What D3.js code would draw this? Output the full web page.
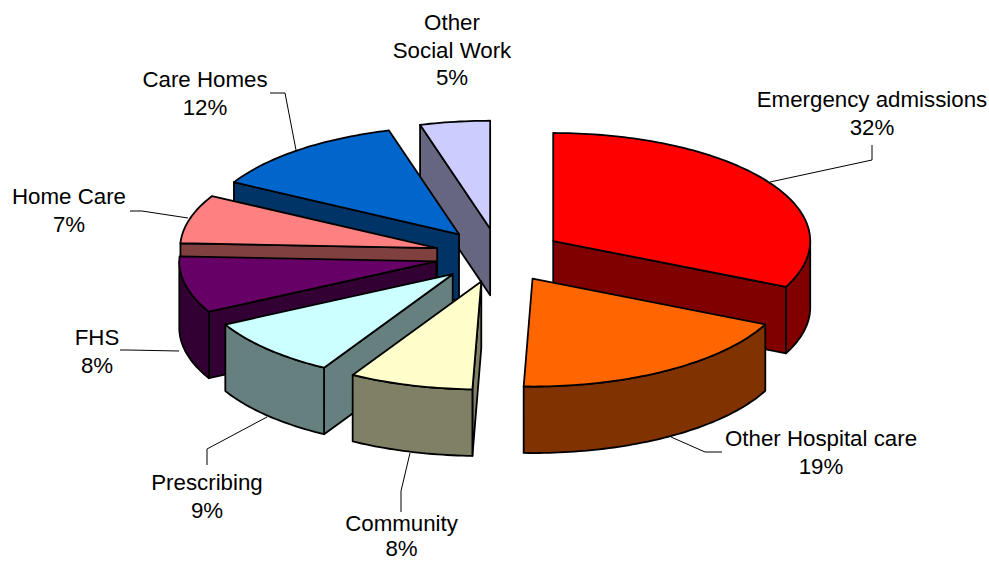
<!DOCTYPE html>
<html>
<head>
<meta charset="utf-8">
<script src="https://cdn.jsdelivr.net/npm/d3@7/dist/d3.min.js"></script>
<style>
html,body{margin:0;padding:0;background:#fff;overflow:hidden}
svg{display:block}
text{font-family:"Liberation Sans",Arial,sans-serif;font-size:22.3px;fill:#000;text-anchor:middle}
</style>
</head>
<body>
<svg id="chart" width="989" height="561"></svg>
<script>
// Data
const categories = ["Emergency admissions","Other Hospital care","Community","Prescribing","FHS","Home Care","Care Homes","Other Social Work"];
const values = [32, 18.6, 7.8, 8.95, 8.45, 7.3, 12.6, 4.4];
const percentLabels = ["32%","19%","8%","9%","8%","7%","12%","5%"];
const topColors = ["#ff0000","#ff6600","#ffffcc","#ccffff","#660066","#ff8080","#0066cc","#ccccff"];
const sideColors = ["#800000","#803300","#808066","#668080","#330033","#804040","#003366","#666680"];

// Layout
const W = 989, H = 561;
const explosion = 0.25;
const depth = 66.5;
const x = d3.scaleLinear().domain([-1, 1]).range([499 - 257, 499 + 257]);
const y = d3.scaleLinear().domain([-1, 1]).range([255.5 + 108, 255.5 - 108]);
const labelLines = [
  {lines:["Emergency admissions"], cx:872, base:107, lead:27.5},
  {lines:["Other Hospital care"], cx:821, base:446, lead:27.5},
  {lines:["Community"], cx:401.5, base:531, lead:25},
  {lines:["Prescribing"], cx:207, base:490, lead:27.5},
  {lines:["FHS"], cx:97, base:345, lead:27.5},
  {lines:["Home Care"], cx:69, base:204, lead:27.5},
  {lines:["Care Homes"], cx:205, base:87, lead:27.5},
  {lines:["Other","Social Work"], cx:452, base:30, lead:27.5}
];
const leaders = [
  [[770,182],[872,160],[872,145]],
  [[671,437],[705,452],[722,452]],
  [[410,453],[401,491],[401,512]],
  [[267,417],[207,449],[207,465]],
  [[179,351],[128,350],[120,350]],
  [[188,218],[142,211],[130,211]],
  [[296,150],[285,93],[270,93]],
  null
];

const svg = d3.select("#chart");
const TAU = Math.PI * 2;
const pie = d3.pie().sort(null).startAngle(0).endAngle(TAU);
const arcs = pie(values);

const line = d3.line();
const gLead = svg.append("g");
const gPie = svg.append("g").attr("stroke","#000").attr("stroke-width",1.8).attr("stroke-linejoin","round");
const gText = svg.append("g");

function sector(a0, a1, ox, oy) {
  const n = Math.max(2, Math.ceil((a1 - a0) / 0.02));
  return d3.range(n + 1).map(i => {
    const a = a0 + (a1 - a0) * i / n;
    return [x(ox + Math.sin(a)), y(oy + Math.cos(a))];
  });
}

// Back-to-front paint order
const order = [7, 0, 6, 5, 4, 3, 2, 1];
order.forEach(i => {
  const d = arcs[i];
  const m = (d.startAngle + d.endAngle) / 2;
  const ox = explosion * Math.sin(m), oy = explosion * Math.cos(m);
  const apex = [x(ox), y(oy)];
  const g = gPie.append("g");
  const rim = sector(d.startAngle, d.endAngle, ox, oy);
  const down = p => [p[0], p[1] + depth];

  // Radial faces that look toward the viewer
  if (d.startAngle + 0.03 >= Math.PI) {
    const p = rim[0];
    g.append("path").attr("fill", sideColors[i])
      .attr("d", line([apex, p, down(p), down(apex)]) + "Z");
  }
  if (d.endAngle <= Math.PI) {
    const p = rim[rim.length - 1];
    g.append("path").attr("fill", sideColors[i])
      .attr("d", line([apex, p, down(p), down(apex)]) + "Z");
  }
  // Outer wall between 90° and 270°
  const w0 = Math.max(d.startAngle, Math.PI / 2), w1 = Math.min(d.endAngle, Math.PI * 1.5);
  if (w1 > w0) {
    const edge = sector(w0, w1, ox, oy);
    g.append("path").attr("fill", sideColors[i])
      .attr("d", line(edge.concat(edge.slice().reverse().map(down))) + "Z");
  }
  // Top face
  g.append("path").attr("fill", topColors[i])
    .attr("d", line([apex].concat(rim)) + "Z");
});

// Leaders and labels
leaders.forEach(l => {
  if (l) gLead.append("path").attr("fill","none").attr("stroke","#000").attr("stroke-width",1).attr("d", line(l));
});
svg.node().appendChild(gLead.node());
labelLines.forEach((l, i) => {
  l.lines.concat([percentLabels[i]]).forEach((t, j) => {
    gText.append("text").attr("x", l.cx).attr("y", l.base + j * l.lead).text(t);
  });
});
</script>
</body>
</html>
